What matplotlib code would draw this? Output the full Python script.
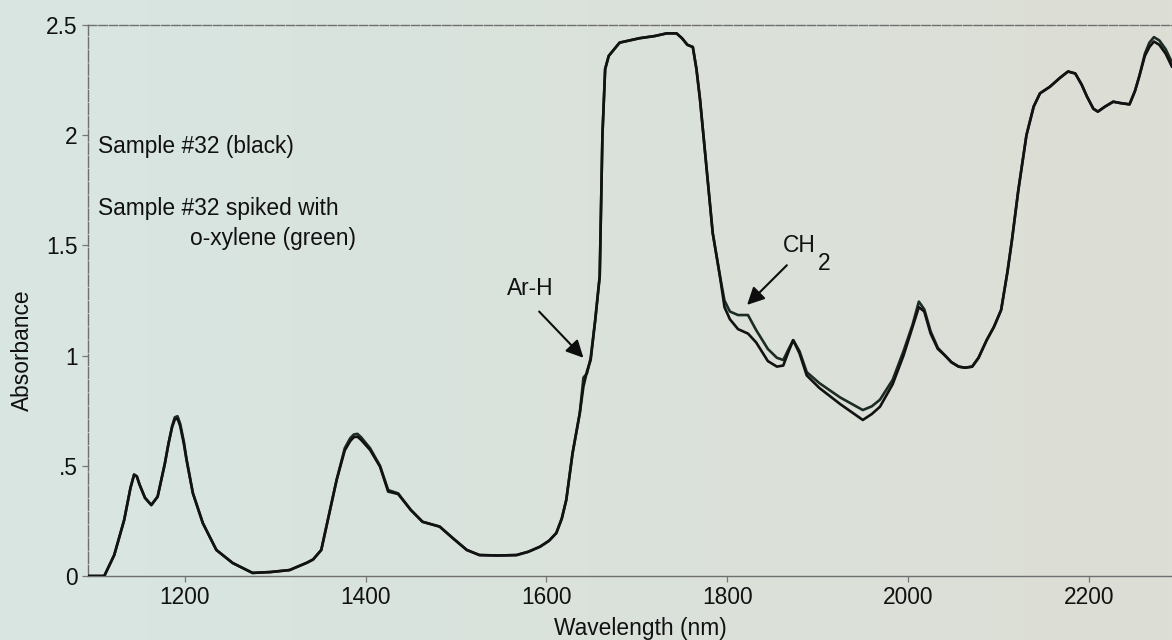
import numpy as np
import matplotlib
matplotlib.use("Agg")
import matplotlib.pyplot as plt

plt.rcParams['font.family'] = ['Liberation Sans', 'DejaVu Sans']

# NIR absorbance spectra (wavelength in nm)
wavelength = [1093, 1111, 1122, 1133, 1140, 1144, 1147, 1150, 1156, 1163, 1170, 1178,
              1182, 1186, 1189, 1192, 1195, 1199, 1202, 1209, 1220, 1235, 1253, 1275,
              1295, 1316, 1335, 1342, 1351, 1360, 1368, 1377, 1383, 1387, 1391, 1395,
              1405, 1416, 1425, 1436, 1450, 1463, 1482, 1497, 1512, 1526, 1547, 1567,
              1580, 1593, 1603, 1611, 1617, 1622, 1629, 1637, 1641, 1645, 1649, 1654,
              1659, 1662, 1665, 1669, 1681, 1703, 1720, 1733, 1744, 1750, 1756, 1762,
              1766, 1770, 1777, 1784, 1792, 1797, 1803, 1812, 1823, 1832, 1845, 1855,
              1862, 1868, 1873, 1880, 1888, 1902, 1925, 1950, 1960, 1969, 1983, 1995,
              2005, 2012, 2018, 2025, 2033, 2041, 2048, 2056, 2063, 2071, 2078, 2087,
              2095, 2103, 2110, 2115, 2122, 2131, 2139, 2146, 2157, 2168, 2177, 2185,
              2192, 2198, 2205, 2210, 2218, 2227, 2236, 2245, 2251, 2256, 2262, 2267,
              2272, 2278, 2285, 2292]

sample_black = [0.0, 0.0, 0.095, 0.254, 0.40, 0.46, 0.452, 0.415, 0.355, 0.322, 0.36, 0.51,
                0.60, 0.675, 0.71, 0.715, 0.68, 0.60, 0.526, 0.376, 0.24, 0.118, 0.059, 0.014,
                0.018, 0.027, 0.06, 0.075, 0.118, 0.286, 0.436, 0.57, 0.612, 0.63, 0.632, 0.618,
                0.572, 0.496, 0.383, 0.372, 0.30, 0.246, 0.224, 0.17, 0.118, 0.095, 0.093, 0.095,
                0.11, 0.133, 0.16, 0.195, 0.26, 0.345, 0.558, 0.74, 0.86, 0.93, 0.98, 1.16,
                1.36, 2.0, 2.3, 2.36, 2.42, 2.44, 2.45, 2.462, 2.462, 2.44, 2.41, 2.40,
                2.30, 2.16, 1.857, 1.556, 1.36, 1.22, 1.165, 1.12, 1.10, 1.06, 0.975, 0.95,
                0.955, 1.02, 1.07, 1.01, 0.91, 0.853, 0.78, 0.708, 0.735, 0.768, 0.87, 1.0,
                1.13, 1.22, 1.20, 1.10, 1.03, 1.0, 0.97, 0.95, 0.945, 0.95, 0.99, 1.07,
                1.13, 1.207, 1.38, 1.525, 1.75, 2.0, 2.13, 2.19, 2.22, 2.26, 2.289, 2.28,
                2.23, 2.175, 2.12, 2.107, 2.13, 2.152, 2.145, 2.14, 2.20, 2.27, 2.36, 2.40,
                2.425, 2.41, 2.37, 2.31]

sample_spiked = [0.0, 0.0, 0.095, 0.254, 0.40, 0.46, 0.452, 0.415, 0.355, 0.322, 0.36, 0.51,
                 0.60, 0.68, 0.72, 0.725, 0.69, 0.61, 0.53, 0.376, 0.24, 0.118, 0.059, 0.014,
                 0.018, 0.027, 0.06, 0.075, 0.118, 0.286, 0.436, 0.58, 0.625, 0.642, 0.645, 0.63,
                 0.58, 0.50, 0.39, 0.375, 0.30, 0.246, 0.224, 0.17, 0.118, 0.095, 0.093, 0.095,
                 0.11, 0.133, 0.16, 0.195, 0.26, 0.345, 0.558, 0.74, 0.90, 0.92, 0.99, 1.16,
                 1.36, 2.0, 2.3, 2.36, 2.42, 2.44, 2.45, 2.462, 2.462, 2.44, 2.41, 2.40,
                 2.30, 2.16, 1.857, 1.556, 1.36, 1.25, 1.20, 1.184, 1.184, 1.116, 1.03, 0.99,
                 0.98, 1.03, 1.07, 1.02, 0.925, 0.875, 0.81, 0.753, 0.77, 0.80, 0.89, 1.02,
                 1.14, 1.245, 1.21, 1.11, 1.035, 1.0, 0.97, 0.95, 0.945, 0.95, 0.99, 1.07,
                 1.13, 1.207, 1.38, 1.525, 1.75, 2.0, 2.13, 2.19, 2.22, 2.26, 2.289, 2.28,
                 2.23, 2.175, 2.12, 2.107, 2.13, 2.152, 2.145, 2.14, 2.20, 2.27, 2.37, 2.42,
                 2.445, 2.43, 2.39, 2.33]

x_ticks = [1200, 1400, 1600, 1800, 2000, 2200]
y_ticks = [0, 0.5, 1, 1.5, 2, 2.5]
y_tick_labels = ['0', '.5', '1', '1.5', '2', '2.5']

fig = plt.figure(figsize=(11.72, 6.40), dpi=100)

# paper-like background with a slight tint shift from left to right
bg = fig.add_axes([0, 0, 1, 1], zorder=-10)
grad = np.linspace(0, 1, 256)[None, :]
c_left = np.array([216, 230, 226]) / 255
c_right = np.array([221, 222, 213]) / 255
img = c_left[None, None, :] * (1 - grad[..., None]) + c_right[None, None, :] * grad[..., None]
bg.imshow(img, aspect='auto', extent=[0, 1, 0, 1])
bg.set_axis_off()

ax = fig.add_axes([88 / 1172, 64 / 640, 1084 / 1172, 551 / 640])
ax.set_facecolor('none')

ax.plot(wavelength, sample_spiked, color='#1c2c24', lw=1.9, zorder=3,
        solid_joinstyle='round', solid_capstyle='round')
ax.plot(wavelength, sample_black, color='#121212', lw=1.9, zorder=4,
        solid_joinstyle='round', solid_capstyle='round')

ax.set_xlim(1093, 2292)
ax.set_ylim(0, 2.5)
ax.set_xticks(x_ticks)
ax.set_yticks(y_ticks)
ax.set_yticklabels(y_tick_labels)
ax.tick_params(axis='both', labelsize=16.4, colors='#777777', labelcolor='#111111',
               length=4.5, width=0.9)
ax.tick_params(axis='y', pad=3)
ax.tick_params(axis='x', pad=3)

for side in ['top', 'left', 'bottom']:
    ax.spines[side].set_color('#6f6f6f')
    ax.spines[side].set_linewidth(1.0)
ax.spines['top'].set_linestyle((0, (6, 1.5)))
ax.spines['left'].set_linestyle((0, (8, 1.5)))
ax.spines['right'].set_visible(False)

ax.set_xlabel('Wavelength (nm)', fontsize=16.4, color='#111111')
ax.xaxis.set_label_coords((640 - 88) / 1084, (576 - 617) / 551)
fig.text(22 / 1172, 1 - 350 / 640, 'Absorbance', rotation=90, ha='center', va='center',
         fontsize=16.4, color='#111111')


def axfrac(px, py):
    return ((px - 88) / 1084, (576 - py) / 551)


txt = dict(fontsize=16.4, color='#111111', transform=ax.transAxes, va='center', ha='left')
ax.text(*axfrac(98, 147), 'Sample #32 (black)', **txt)
ax.text(*axfrac(98, 209), 'Sample #32 spiked with', **txt)
ax.text(*axfrac(190, 239), 'o-xylene (green)', **txt)

ax.text(*axfrac(507, 289), 'Ar-H', **txt)
ax.text(*axfrac(783, 245), 'CH', **txt)
ax.text(*axfrac(818, 263), '2', **txt)

arrow = dict(arrowstyle='-|>', color='#0d0d0d', lw=1.5, mutation_scale=26,
             shrinkA=0, shrinkB=0)
ax.annotate('', xy=(1641, 0.99), xytext=(1592, 1.20), arrowprops=arrow, zorder=5)
ax.annotate('', xy=(1822, 1.23), xytext=(1866, 1.41), arrowprops=arrow, zorder=5)

fig.savefig('out.png', dpi=100)
